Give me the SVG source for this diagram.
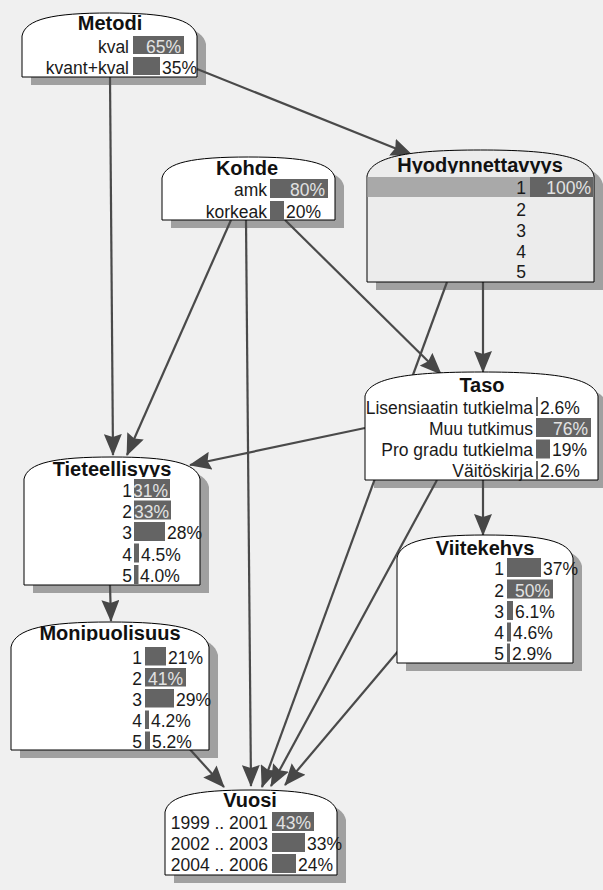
<svg xmlns="http://www.w3.org/2000/svg" width="603" height="890" viewBox="0 0 603 890">
  <style>
    .bg { fill: #f0f0f0; }
    .shadow { fill: #a0a0a0; }
    .box { fill: #ffffff; stroke: #000000; stroke-width: 1; }
    .box.sel { fill: #ececec; }
    .title { font-family: "Liberation Sans", Arial, sans-serif; font-size: 20px; font-weight: bold; fill: #111111; text-anchor: middle; }
    .lbl { font-family: "Liberation Sans", Arial, sans-serif; font-size: 17.5px; fill: #1a1a1a; text-anchor: end; }
    .pct { font-family: "Liberation Sans", Arial, sans-serif; font-size: 17.5px; fill: #1a1a1a; }
    .pin { font-family: "Liberation Sans", Arial, sans-serif; font-size: 17.5px; fill: #e2e2e2; text-anchor: end; }
    .bar { fill: #646464; }
    .hl { fill: #a9a9a9; }
    .edge { fill: none; stroke: #4a4a4a; stroke-width: 2.2; marker-end: url(#arrow); }
  </style>
  <defs>
    <marker id="arrow" markerUnits="userSpaceOnUse" markerWidth="22" markerHeight="18" refX="21" refY="9" orient="auto">
      <path d="M0,0 L22,9 L0,18 L3,9 Z" fill="#474747"/>
    </marker>
    <!-- titles are cut off just under their baseline -->
    <clipPath id="clip-hyod"><rect x="367" y="140" width="227" height="33.5"/></clipPath>
    <clipPath id="clip-tiet"><rect x="24" y="450" width="176" height="27"/></clipPath>
    <clipPath id="clip-viite"><rect x="397" y="528" width="176" height="28"/></clipPath>
    <clipPath id="clip-monip"><rect x="11" y="615" width="198" height="26"/></clipPath>
  </defs>

  <rect class="bg" x="0" y="0" width="603" height="890"/>

  <!-- drop shadows of the nodes -->
  <g id="shadows" class="shadow" transform="translate(9,8)">
    <path d="M22,77 V36 C25.5,18.75 53.5,13 109.5,13 S193.5,18.75 197,36 V77 Z"/>
    <path d="M162,220 V178 C165.5,162.25 193.1,157 248.5,157 S331.5,162.25 335,178 V220 Z"/>
    <path d="M367,282 V176 C371.5,156.5 407.9,150 480.5,150 S589.5,156.5 594,176 V282 Z"/>
    <path d="M365,480 V396 C369.7,378 406.9,372 481.5,372 S593.3,378 598,396 V480 Z"/>
    <path d="M24,585 V479 C27.5,462.5 55.7,457 112,457 S196.5,462.5 200,479 V585 Z"/>
    <path d="M397,663 V558 C400.5,540.75 428.7,535 485,535 S569.5,540.75 573,558 V663 Z"/>
    <path d="M11,750 V647 C15,628.25 46.6,622 110,622 S205,628.25 209,647 V750 Z"/>
    <path d="M165,875 V812 C168.4,795.5 196,790 251,790 S333.6,795.5 337,812 V875 Z"/>
  </g>

  <!-- connectors -->
  <g id="edges">
    <path class="edge" d="M110,77 L113,455"/>
    <path class="edge" d="M197,69 L412,155"/>
    <path class="edge" d="M231,220 L127,455"/>
    <path class="edge" d="M246,220 L251,786"/>
    <path class="edge" d="M285,220 L441,374"/>
    <path class="edge" d="M483,282 L483,372"/>
    <path class="edge" d="M447,282 L262,787"/>
    <path class="edge" d="M365,428 L190,465"/>
    <path class="edge" d="M483,480 L483,535"/>
    <path class="edge" d="M437,480 L271,786"/>
    <path class="edge" d="M110,585 L111,621"/>
    <path class="edge" d="M186,745 L224,787"/>
    <path class="edge" d="M405,643 L285,785"/>
  </g>

  <!-- Metodi -->
  <g id="metodi">
    <path class="box" d="M22,77 V36 C25.5,18.75 53.5,13 109.5,13 S193.5,18.75 197,36 V77 Z"/>
    <text class="title" x="110" y="30">Metodi</text>
    <text class="lbl" x="129" y="53">kval</text>
    <rect class="bar" x="133" y="36" width="51" height="18"/>
    <text class="pin" x="181" y="53">65%</text>
    <text class="lbl" x="129" y="74">kvant+kval</text>
    <rect class="bar" x="133" y="57" width="27" height="18"/>
    <text class="pct" x="162" y="74">35%</text>
  </g>

  <!-- Kohde -->
  <g id="kohde">
    <path class="box" d="M162,220 V178 C165.5,162.25 193.1,157 248.5,157 S331.5,162.25 335,178 V220 Z"/>
    <text class="title" x="247" y="175">Kohde</text>
    <text class="lbl" x="267" y="196">amk</text>
    <rect class="bar" x="270" y="179" width="58" height="19"/>
    <text class="pin" x="325" y="196">80%</text>
    <text class="lbl" x="267" y="218">korkeak</text>
    <rect class="bar" x="270" y="201" width="14" height="19"/>
    <text class="pct" x="286" y="218">20%</text>
  </g>

  <!-- Hyodynnettavyys (state 1 selected) -->
  <g id="hyodynnettavyys">
    <path class="box sel" d="M367,282 V176 C371.5,156.5 407.9,150 480.5,150 S589.5,156.5 594,176 V282 Z"/>
    <text class="title" x="480" y="172" clip-path="url(#clip-hyod)">Hyodynnettavyys</text>
    <rect class="hl" x="367.5" y="177" width="226" height="20"/>
    <rect class="bar" x="530" y="177" width="63.5" height="20"/>
    <text class="lbl" x="526" y="194">1</text>
    <text class="pin" x="591" y="194">100%</text>
    <text class="lbl" x="526" y="216">2</text>
    <text class="lbl" x="526" y="237">3</text>
    <text class="lbl" x="526" y="258">4</text>
    <text class="lbl" x="526" y="278">5</text>
  </g>

  <!-- Taso -->
  <g id="taso">
    <path class="box" d="M365,480 V396 C369.7,378 406.9,372 481.5,372 S593.3,378 598,396 V480 Z"/>
    <text class="title" x="482" y="392">Taso</text>
    <text class="lbl" x="533" y="414">Lisensiaatin tutkielma</text>
    <rect class="bar" x="536" y="397" width="2" height="19"/>
    <text class="pct" x="540" y="414">2.6%</text>
    <text class="lbl" x="533" y="435">Muu tutkimus</text>
    <rect class="bar" x="536" y="418" width="55" height="19"/>
    <text class="pin" x="588" y="435">76%</text>
    <text class="lbl" x="533" y="456">Pro gradu tutkielma</text>
    <rect class="bar" x="536" y="439.5" width="14" height="19"/>
    <text class="pct" x="552" y="456">19%</text>
    <text class="lbl" x="533" y="477">Väitöskirja</text>
    <rect class="bar" x="536" y="461" width="2" height="19"/>
    <text class="pct" x="540" y="477">2.6%</text>
  </g>

  <!-- Tieteellisyys -->
  <g id="tieteellisyys">
    <path class="box" d="M24,585 V479 C27.5,462.5 55.7,457 112,457 S196.5,462.5 200,479 V585 Z"/>
    <text class="title" x="112" y="476" clip-path="url(#clip-tiet)">Tieteellisyys</text>
    <text class="lbl" x="132" y="497">1</text>
    <rect class="bar" x="134" y="479" width="36" height="19"/>
    <text class="pin" x="168" y="497">31%</text>
    <text class="lbl" x="132" y="518">2</text>
    <rect class="bar" x="134" y="500.5" width="37" height="19"/>
    <text class="pin" x="169" y="518">33%</text>
    <text class="lbl" x="132" y="539">3</text>
    <rect class="bar" x="134" y="522" width="31" height="19"/>
    <text class="pct" x="167" y="539">28%</text>
    <text class="lbl" x="132" y="561">4</text>
    <rect class="bar" x="134" y="543.5" width="5" height="19"/>
    <text class="pct" x="141" y="561">4.5%</text>
    <text class="lbl" x="132" y="582">5</text>
    <rect class="bar" x="134" y="565" width="4.5" height="19"/>
    <text class="pct" x="140" y="582">4.0%</text>
  </g>

  <!-- Viitekehys -->
  <g id="viitekehys">
    <path class="box" d="M397,663 V558 C400.5,540.75 428.7,535 485,535 S569.5,540.75 573,558 V663 Z"/>
    <text class="title" x="485" y="555" clip-path="url(#clip-viite)">Viitekehys</text>
    <text class="lbl" x="504" y="575">1</text>
    <rect class="bar" x="507" y="558" width="34" height="19"/>
    <text class="pct" x="543" y="575">37%</text>
    <text class="lbl" x="504" y="597">2</text>
    <rect class="bar" x="507" y="579.5" width="46" height="19"/>
    <text class="pin" x="550" y="597">50%</text>
    <text class="lbl" x="504" y="618">3</text>
    <rect class="bar" x="507" y="601" width="6" height="19"/>
    <text class="pct" x="515" y="618">6.1%</text>
    <text class="lbl" x="504" y="639">4</text>
    <rect class="bar" x="507" y="622.5" width="4" height="19"/>
    <text class="pct" x="513" y="639">4.6%</text>
    <text class="lbl" x="504" y="660">5</text>
    <rect class="bar" x="507" y="643.5" width="3" height="19"/>
    <text class="pct" x="512" y="660">2.9%</text>
  </g>

  <!-- Monipuolisuus -->
  <g id="monipuolisuus">
    <path class="box" d="M11,750 V647 C15,628.25 46.6,622 110,622 S205,628.25 209,647 V750 Z"/>
    <text class="title" x="110" y="640" clip-path="url(#clip-monip)">Monipuolisuus</text>
    <text class="lbl" x="142" y="664">1</text>
    <rect class="bar" x="145" y="647" width="21" height="18.5"/>
    <text class="pct" x="168" y="664">21%</text>
    <text class="lbl" x="142" y="685">2</text>
    <rect class="bar" x="145" y="668" width="41" height="18.5"/>
    <text class="pin" x="183" y="685">41%</text>
    <text class="lbl" x="142" y="706">3</text>
    <rect class="bar" x="145" y="689" width="29" height="18.5"/>
    <text class="pct" x="176" y="706">29%</text>
    <text class="lbl" x="142" y="727">4</text>
    <rect class="bar" x="145" y="710.5" width="4" height="18.5"/>
    <text class="pct" x="151" y="727">4.2%</text>
    <text class="lbl" x="142" y="748">5</text>
    <rect class="bar" x="145" y="731.5" width="5" height="18.5"/>
    <text class="pct" x="152" y="748">5.2%</text>
  </g>

  <!-- Vuosi -->
  <g id="vuosi">
    <path class="box" d="M165,875 V812 C168.4,795.5 196,790 251,790 S333.6,795.5 337,812 V875 Z"/>
    <text class="title" x="250" y="807">Vuosi</text>
    <text class="lbl" x="268" y="829">1999 .. 2001</text>
    <rect class="bar" x="272" y="812" width="42" height="19"/>
    <text class="pin" x="311" y="829">43%</text>
    <text class="lbl" x="268" y="850">2002 .. 2003</text>
    <rect class="bar" x="272" y="833" width="33" height="19"/>
    <text class="pct" x="307" y="850">33%</text>
    <text class="lbl" x="268" y="871">2004 .. 2006</text>
    <rect class="bar" x="272" y="854" width="24" height="19"/>
    <text class="pct" x="298" y="871">24%</text>
  </g>
</svg>
